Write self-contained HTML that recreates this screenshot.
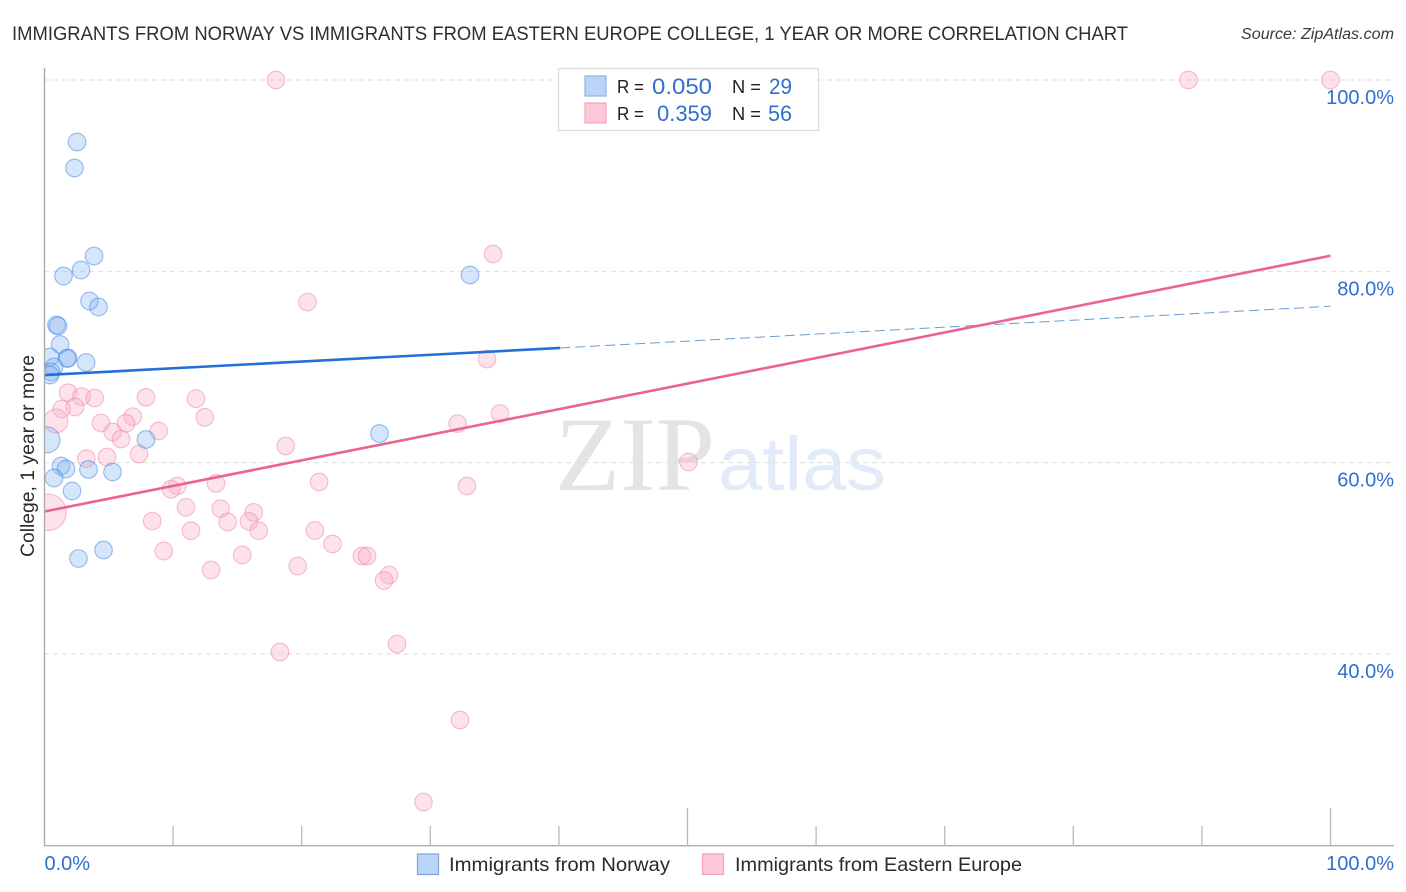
<!DOCTYPE html>
<html lang="en">
<head>
<meta charset="utf-8">
<title>Immigrants from Norway vs Immigrants from Eastern Europe College Correlation Chart</title>
<style>
html,body{margin:0;padding:0;background:#fff;}
body{width:1406px;height:892px;overflow:hidden;}
svg{display:block;font-family:"Liberation Sans",sans-serif;}
</style>
</head>
<body>
<svg id="chart" width="1406" height="892" viewBox="0 0 1406 892" xmlns="http://www.w3.org/2000/svg">
  <rect x="0" y="0" width="1406" height="892" fill="#fff"/>
  <text x="12" y="40" font-size="19.5" fill="#2e2e32" textLength="1116" lengthAdjust="spacingAndGlyphs">IMMIGRANTS FROM NORWAY VS IMMIGRANTS FROM EASTERN EUROPE COLLEGE, 1 YEAR OR MORE CORRELATION CHART</text>
  <text x="1241" y="39" font-size="15.5" font-style="italic" fill="#3a3a3e" textLength="153" lengthAdjust="spacingAndGlyphs">Source: ZipAtlas.com</text>
  <text x="555" y="490" font-family="'Liberation Serif',serif" font-size="106" fill="#e4e4e4" textLength="160" lengthAdjust="spacingAndGlyphs">ZIP</text>
  <text x="718" y="490" font-size="76" fill="#e2ebf9" textLength="168" lengthAdjust="spacingAndGlyphs">atlas</text>
  <g id="grid"></g>
  <g id="points"></g>
  <rect x="0" y="60" width="44" height="800" fill="#fff"/>
  <g id="trends"></g>
  <g id="axes"></g>
  <text transform="translate(34 557) rotate(-90)" font-size="19.5" fill="#2a2a2e" textLength="202" lengthAdjust="spacingAndGlyphs">College, 1 year or more</text>

  <g>
    <rect x="558.5" y="68.5" width="260" height="62" fill="#fff" stroke="#dcdcdc" stroke-width="1.2"/>
    <rect x="585" y="76" width="21" height="20" fill="#b9d4f7" stroke="#8fb2e6" stroke-width="1.2"/>
    <text x="617" y="93" font-size="18.5" fill="#222" textLength="27" lengthAdjust="spacingAndGlyphs">R =</text>
    <text x="652" y="94" font-size="22" fill="#2f6fd0" textLength="60" lengthAdjust="spacingAndGlyphs">0.050</text>
    <text x="732" y="93" font-size="18.5" fill="#222" textLength="29" lengthAdjust="spacingAndGlyphs">N =</text>
    <text x="769" y="94" font-size="22" fill="#2f6fd0" textLength="23" lengthAdjust="spacingAndGlyphs">29</text>
    <rect x="585" y="103" width="21" height="20" fill="#fcc8d9" stroke="#f0a8c0" stroke-width="1.2"/>
    <text x="617" y="120" font-size="18.5" fill="#222" textLength="27" lengthAdjust="spacingAndGlyphs">R =</text>
    <text x="657" y="121" font-size="22" fill="#2f6fd0" textLength="55" lengthAdjust="spacingAndGlyphs">0.359</text>
    <text x="732" y="120" font-size="18.5" fill="#222" textLength="29" lengthAdjust="spacingAndGlyphs">N =</text>
    <text x="768" y="121" font-size="22" fill="#2f6fd0" textLength="24" lengthAdjust="spacingAndGlyphs">56</text>
  </g>

  <g>
    <rect x="417.5" y="854" width="21" height="20.5" fill="#b9d4f7" stroke="#7ea3de" stroke-width="1.2"/>
    <text x="449" y="871" font-size="19.5" fill="#2a2a2e" textLength="221" lengthAdjust="spacingAndGlyphs">Immigrants from Norway</text>
    <rect x="702.5" y="854" width="21" height="20.5" fill="#fcc8d9" stroke="#f0a0bb" stroke-width="1.2"/>
    <text x="735" y="871" font-size="19.5" fill="#2a2a2e" textLength="287" lengthAdjust="spacingAndGlyphs">Immigrants from Eastern Europe</text>
  </g>
</svg>
<script>
const yGridValues = [100, 80, 60, 40];
const yTickLabels = ["100.0%", "80.0%", "60.0%", "40.0%"];
const xTickValues = [10, 20, 30, 40, 50, 60, 70, 80, 90, 100];
const xMajorTicks = [50, 100];
const xEndValues = [0, 100];
const xEndLabels = ["0.0%", "100.0%"];

const norwayX = [2.53,2.33,3.85,2.84,1.48,33.09,3.50,4.20,0.93,1.05,1.21,1.83,1.75,3.23,0.43,0.74,0.51,0.43,0.19,7.89,26.05,1.28,1.67,3.42,5.29,0.74,2.14,4.59,2.64];
const norwayY = [93.52,90.80,81.60,80.14,79.51,79.62,76.90,76.27,74.39,74.29,72.35,70.94,70.89,70.47,71.05,70.00,69.48,69.16,62.39,62.42,63.05,59.65,59.34,59.29,59.02,58.40,57.04,50.87,49.98];
const norwayWeight = [1,1,1,1,1,1,1,1,1,1,1,1,1,1,1,1,1,1,2.2,1,1,1,1,1,1,1,1,1,1];

const easternX = [18.00,88.96,100,34.88,20.45,34.41,1.83,2.88,3.90,7.89,11.78,1.34,2.37,0.89,4.39,6.86,6.34,12.46,5.30,5.95,8.88,7.35,3.25,4.86,18.76,13.34,10.33,9.84,11.00,13.70,8.38,14.25,16.27,15.90,11.39,16.66,9.27,15.38,12.95,19.69,0.27,32.12,35.42,50.08,32.85,21.35,21.03,22.40,24.69,25.08,26.79,26.40,27.41,18.31,32.31,29.47];
const easternY = [100,100,100,81.81,76.79,70.84,67.31,66.90,66.76,66.83,66.69,65.61,65.82,64.36,64.15,64.81,64.12,64.74,63.21,62.47,63.31,60.91,60.42,60.59,61.74,57.84,57.56,57.22,55.34,55.19,53.90,53.80,54.81,53.87,52.89,52.89,50.77,50.35,48.78,49.20,54.81,64.09,65.14,60.07,57.56,57.98,52.91,51.50,50.25,50.25,48.26,47.68,41.05,40.21,33.10,24.53];
const easternWeight = [1,1,1,1,1,1,1,1,1,1,1,1,1,1.85,1,1,1,1,1,1,1,1,1,1,1,1,1,1,1,1,1,1,1,1,1,1,1,1,1,1,4.3,1,1,1,1,1,1,1,1,1,1,1,1,1,1,1];

const norwayTrendX = [0, 40.1, 100];
const norwayTrendY = [69.16, 71.99, 76.35];
const easternTrendX = [0, 100];
const easternTrendY = [54.90, 81.63];

function sx(v) { return 44.5 + v * 12.86; }
function sy(v) { return 80 + (100 - v) * 9.567; }
function sr(w) { return 8.8 * Math.sqrt(w); }

const NS = 'http://www.w3.org/2000/svg';
function make(tag, parent, attrs) {
  const el = document.createElementNS(NS, tag);
  for (const k in attrs) el.setAttribute(k, attrs[k]);
  parent.appendChild(el);
  return el;
}

const gridG = document.getElementById('grid');
const axesG = document.getElementById('axes');
const pointsG = document.getElementById('points');
const trendsG = document.getElementById('trends');

yGridValues.forEach(function (v, i) {
  const line = make('line', gridG, {x1: 44, x2: 1394, y1: sy(v), y2: sy(v), stroke: '#dedede', 'stroke-width': 1, 'stroke-dasharray': '5 4'});
  
  
  const label = make('text', axesG, {x: 1394, y: sy(v) + 24, 'text-anchor': 'end', 'font-size': 20, fill: '#2f6fd0'});
  label.textContent = yTickLabels[i];
  
  
});

function drawSeries(xs, ys, ws, fill, stroke, name) {
  xs.forEach(function (x, i) {
    const c = make('circle', pointsG, {cx: sx(x), cy: sy(ys[i]), r: sr(ws[i]), fill: fill, stroke: stroke, 'stroke-width': 1.1});
    
    
  });
}
drawSeries(easternX, easternY, easternWeight, 'rgba(249,176,200,0.36)', 'rgba(234,130,165,0.5)', 'eastern-europe-point');
drawSeries(norwayX, norwayY, norwayWeight, 'rgba(130,180,240,0.33)', 'rgba(55,125,225,0.5)', 'norway-point');

const norwaySolid = make('line', trendsG, {x1: sx(norwayTrendX[0]), y1: sy(norwayTrendY[0]), x2: sx(norwayTrendX[1]), y2: sy(norwayTrendY[1]), stroke: '#2270d8', 'stroke-width': 2.6});


const norwayDash = make('line', trendsG, {x1: sx(norwayTrendX[1]), y1: sy(norwayTrendY[1]), x2: sx(norwayTrendX[2]), y2: sy(norwayTrendY[2]), stroke: '#6a9ad4', 'stroke-width': 1, 'stroke-dasharray': '10 5'});


const easternLine = make('line', trendsG, {x1: sx(easternTrendX[0]), y1: sy(easternTrendY[0]), x2: sx(easternTrendX[1]), y2: sy(easternTrendY[1]), stroke: '#ea6394', 'stroke-width': 2.6});



const yAxis = make('line', axesG, {x1: 44.5, x2: 44.5, y1: 68, y2: 846, stroke: '#ababab', 'stroke-width': 1.4});


const xAxis = make('line', axesG, {x1: 44, x2: 1394, y1: 845.7, y2: 845.7, stroke: '#ababab', 'stroke-width': 1.4});



xTickValues.forEach(function (v) {
  const top = xMajorTicks.indexOf(v) >= 0 ? 808 : 826;
  const tick = make('line', axesG, {x1: sx(v), x2: sx(v), y1: top, y2: 846, stroke: '#b8b8b8', 'stroke-width': 1.3});
  
  
});

xEndValues.forEach(function (v, i) {
  const label = make('text', axesG, {x: i === 0 ? sx(v) : 1394, y: 870, 'text-anchor': i === 0 ? 'start' : 'end', 'font-size': 20, fill: '#2f6fd0'});
  label.textContent = xEndLabels[i];
  
  
});
</script>
</body>
</html>
